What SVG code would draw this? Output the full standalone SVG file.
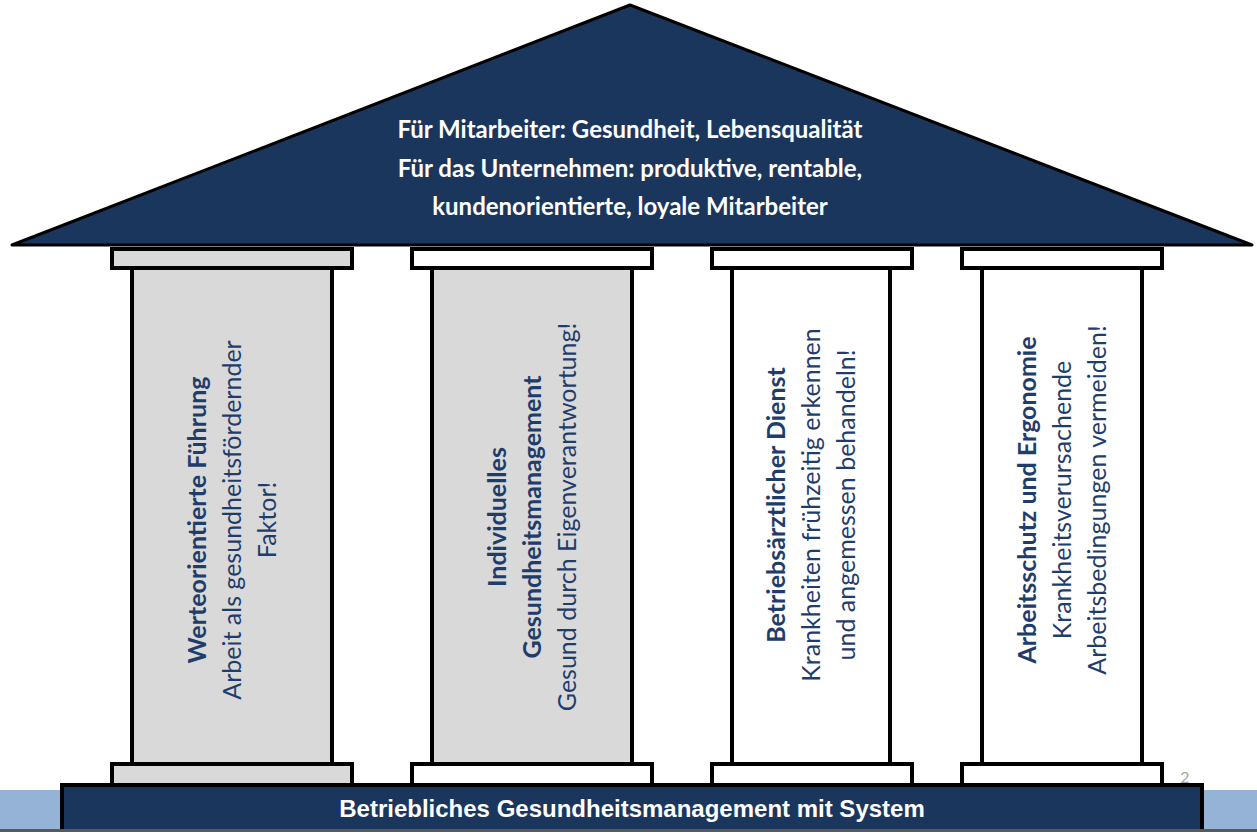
<svg xmlns="http://www.w3.org/2000/svg" width="1257" height="832" viewBox="0 0 1257 832">
<style>
.ln{stroke:#000;stroke-width:4}
.g{fill:#d9d9d9}.w{fill:#fff}
.roof{font-family:Lato,"Open Sans",sans-serif;font-weight:bold;font-size:24px;fill:#fff;text-anchor:middle}
.ct{font-family:Lato,"Open Sans",sans-serif;font-size:25px;fill:#1f3d6b;text-anchor:middle}
.b{font-weight:bold}
</style>
<rect x="0" y="790" width="1257" height="42" fill="#95b3d7"/>
<g id="roof">
<polygon points="12,245 630,5 1252,245" fill="#1b365d" stroke="#000" stroke-width="3" stroke-linejoin="round"/>
<text class="roof" x="630" y="138">Für Mitarbeiter: Gesundheit, Lebensqualität</text>
<text class="roof" x="630" y="177">Für das Unternehmen: produktive, rentable,</text>
<text class="roof" x="630" y="215">kundenorientierte, loyale Mitarbeiter</text>
</g>
<g id="col1">
<rect class="g ln" x="112" y="249" width="240" height="19"/>
<rect class="g ln" x="132" y="268" width="200" height="496"/>
<rect class="g ln" x="112" y="764" width="240" height="21"/>
<text class="ct" transform="translate(232,520) rotate(-90)"><tspan class="b" x="0" y="-26">Werteorientierte Führung</tspan><tspan x="0" y="9">Arbeit als gesundheitsfördernder</tspan><tspan x="0" y="44">Faktor!</tspan></text>
</g>
<g id="col2">
<rect class="w ln" x="412" y="249" width="240" height="19"/>
<rect class="g ln" x="432" y="268" width="200" height="496"/>
<rect class="w ln" x="412" y="764" width="240" height="21"/>
<text class="ct" transform="translate(532,517) rotate(-90)"><tspan class="b" x="0" y="-26">Individuelles</tspan><tspan class="b" x="0" y="9">Gesundheitsmanagement</tspan><tspan x="0" y="44">Gesund durch Eigenverantwortung!</tspan></text>
</g>
<g id="col3">
<rect class="w ln" x="712" y="249" width="200" height="19"/>
<rect class="w ln" x="732" y="268" width="158" height="496"/>
<rect class="w ln" x="712" y="764" width="200" height="21"/>
<text class="ct" transform="translate(811,505) rotate(-90)"><tspan class="b" x="0" y="-26">Betriebsärztlicher Dienst</tspan><tspan x="0" y="9">Krankheiten frühzeitig erkennen</tspan><tspan x="0" y="44">und angemessen behandeln!</tspan></text>
</g>
<g id="col4">
<rect class="w ln" x="962" y="249" width="200" height="19"/>
<rect class="w ln" x="982" y="268" width="160" height="496"/>
<rect class="w ln" x="962" y="764" width="200" height="21"/>
<text class="ct" transform="translate(1062,500) rotate(-90)"><tspan class="b" x="0" y="-26">Arbeitsschutz und Ergonomie</tspan><tspan x="0" y="9">Krankheitsverursachende</tspan><tspan x="0" y="44">Arbeitsbedingungen vermeiden!</tspan></text>
</g>
<g id="base">
<rect x="62" y="785" width="1140" height="50" fill="#1b365d" stroke="#000" stroke-width="4"/>
<text x="632" y="817" font-family="Liberation Sans,Arial,sans-serif" font-weight="bold" font-size="24" fill="#fff" text-anchor="middle">Betriebliches Gesundheitsmanagement mit System</text>
</g>
<text x="1185" y="783" font-family="Lato,sans-serif" font-size="16" fill="#a6a6a6" text-anchor="middle">2</text>
<rect x="0" y="829" width="1257" height="3" fill="#595959"/>
<g id="connectors"/>
</svg>
